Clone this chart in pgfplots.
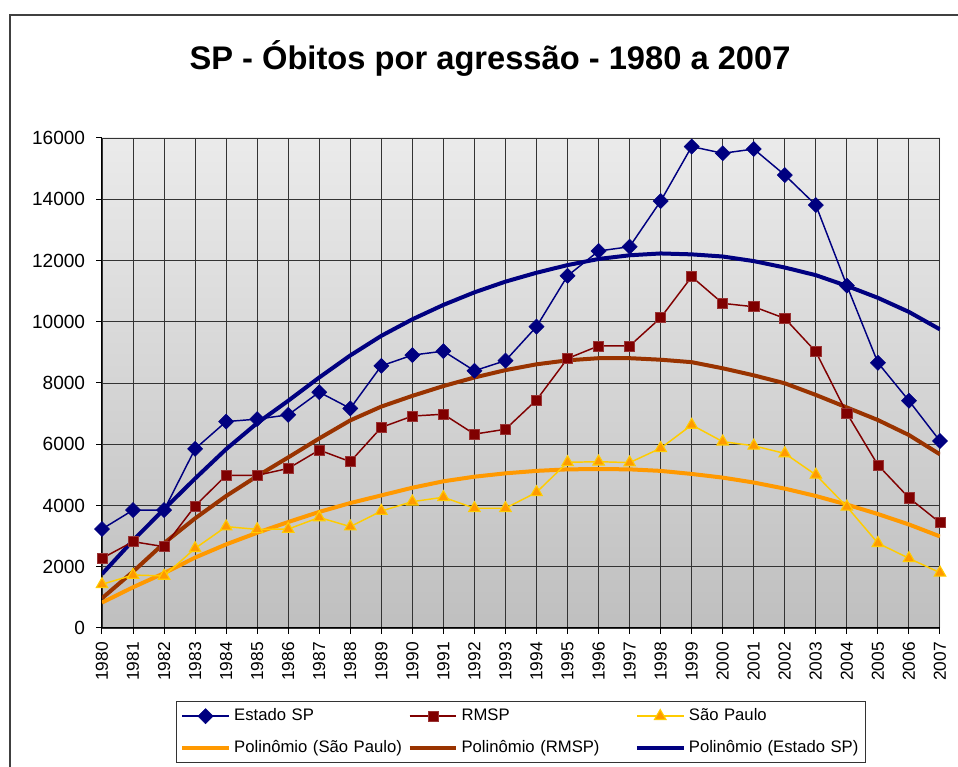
\documentclass[border=0pt]{standalone}
\usepackage{fontspec}
\setmainfont{Liberation Sans}
\usepackage{pgfplots}
\pgfplotsset{compat=1.18}
\usepackage{pgfplotstable}
\definecolor{navy}{HTML}{000080}
\definecolor{maroon}{HTML}{800000}
\definecolor{gold}{HTML}{FFCC00}
\definecolor{orng}{HTML}{FF9900}
\definecolor{brn}{HTML}{993300}

\pgfplotstableread{
year est rmsp sp pest prmsp psp
1980 3230 2275 1425 1760 970 830
1981 3850 2820 1730 2860 1840 1330
1982 3850 2655 1700 3880 2770 1790
1983 5850 3985 2600 4880 3580 2300
1984 6740 4985 3310 5840 4310 2730
1985 6820 4985 3220 6690 4960 3110
1986 6960 5210 3230 7420 5570 3460
1987 7700 5810 3610 8180 6190 3790
1988 7170 5430 3310 8900 6780 4080
1989 8560 6550 3820 9540 7230 4330
1990 8910 6920 4125 10080 7580 4580
1991 9040 6980 4270 10550 7900 4790
1992 8400 6330 3910 10960 8180 4940
1993 8730 6490 3910 11310 8420 5050
1994 9840 7445 4430 11600 8610 5130
1995 11500 8800 5410 11850 8740 5180
1996 12310 9210 5430 12050 8810 5190
1997 12450 9210 5400 12170 8810 5180
1998 13940 10130 5870 12230 8760 5130
1999 15720 11470 6630 12200 8680 5030
2000 15500 10600 6085 12130 8480 4910
2001 15640 10490 5950 11980 8250 4750
2002 14790 10110 5700 11770 7990 4550
2003 13810 9020 5000 11520 7610 4310
2004 11180 7010 3960 11170 7200 4030
2005 8660 5320 2770 10780 6790 3720
2006 7420 4250 2275 10320 6300 3380
2007 6105 3440 1805 9750 5670 2990
}\data

\begin{document}
\begin{tikzpicture}
\useasboundingbox (0,0) rectangle (718.5pt,575.25pt);
\draw[black!75, line width=1.1pt] (7.5pt,-20pt) rectangle (740pt,564pt);
\node[anchor=base, font=\fontsize{24.5}{28}\selectfont\bfseries] at (367.5pt,522.75pt) {SP - Óbitos por agressão - 1980 a 2007};
\begin{axis}[
  at={(76.5pt,104.25pt)}, anchor=south west,
  scale only axis, width=628.5pt, height=367.5pt,
  xmin=1980, xmax=2007, ymin=0, ymax=16000,
  xtick={1980,...,2007}, ytick={0,2000,...,16000},
  scaled y ticks=false,
  axis x line*=bottom, axis y line*=left,
  axis line style={black, line width=0.75pt},
  tick align=outside, major tick length=4.5pt,
  tick style={black, line width=0.75pt},
  grid=major, major grid style={black!80, line width=0.7pt},
  axis background/.style={top color=black!8, bottom color=black!25},
  clip mode=individual,
  /pgf/number format/.cd, 1000 sep={}, assume math mode=true, /pgfplots/.cd,
  yticklabel style={font=\fontsize{14.3}{16}\selectfont, inner sep=0pt},
  yticklabel shift=8pt,
  xticklabel style={rotate=90, anchor=east, font=\fontsize{13}{15}\selectfont, inner sep=0pt},
  xticklabel shift=6pt,
  legend columns=3,
  legend cell align=left,
  legend image code/.code={\draw[mark repeat=2,mark phase=2,#1] plot coordinates {(0pt,0pt) (17.5pt,0pt) (35pt,0pt)};},
  legend style={at={(0.088,-0.149)}, anchor=north west, draw=black!80, line width=0.75pt, fill=white,
    font=\fontsize{12.5}{14}\selectfont, inner xsep=3pt, inner ysep=5pt, row sep=12pt,
    nodes={text width=129.5pt, inner sep=0pt, text height=9pt, text depth=3pt},
    /tikz/every odd column/.style={column sep=2.5pt},
    /tikz/every even column/.style={column sep=0.5pt}},
]
\addplot[forget plot, orng, line width=3pt, line join=round] table[x=year,y=psp]{\data};
\addplot[forget plot, brn, line width=3pt, line join=round] table[x=year,y=prmsp]{\data};
\addplot[forget plot, navy, line width=3pt, line join=round] table[x=year,y=pest]{\data};

\addplot[navy, line width=1.1pt, mark=square*, mark size=4pt, mark options={rotate=45, fill=navy, draw=navy, line width=0.4pt}] table[x=year,y=est]{\data};
\addlegendentry{Estado SP}
\addplot[maroon, line width=1.1pt, mark=square*, mark size=3.8pt, mark options={fill=maroon, draw=maroon!80!white, line width=0.5pt}] table[x=year,y=rmsp]{\data};
\addlegendentry{RMSP}
\addplot[gold, line width=1.1pt, mark=triangle*, mark size=5pt, mark options={fill=orng, draw=gold, line width=0.8pt}] table[x=year,y=sp]{\data};
\addlegendentry{São Paulo}
\addlegendimage{orng, line width=3pt}
\addlegendentry{Polinômio (São Paulo)}
\addlegendimage{brn, line width=3pt}
\addlegendentry{Polinômio (RMSP)}
\addlegendimage{navy, line width=3pt}
\addlegendentry{Polinômio (Estado SP)}
\end{axis}
\end{tikzpicture}
\end{document}
